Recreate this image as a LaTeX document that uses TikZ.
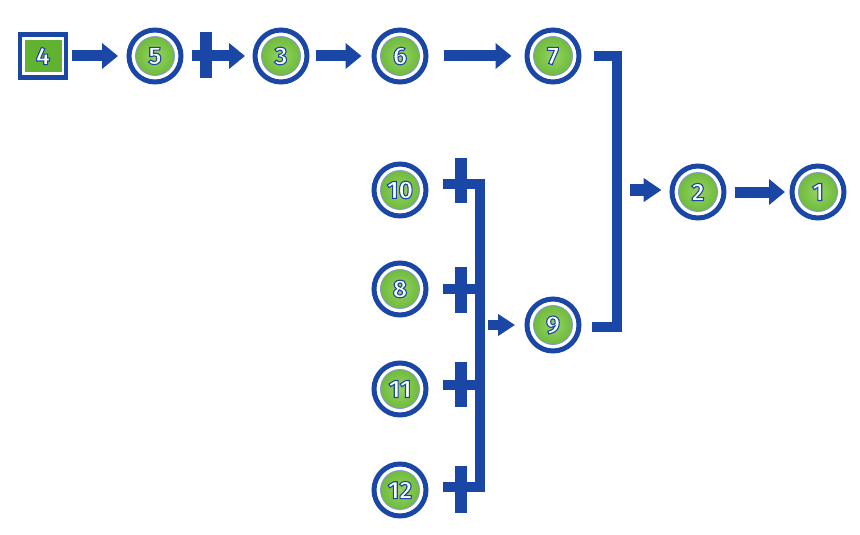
\documentclass[tikz,border=0pt]{standalone}
\usepackage{fontspec}
\setmainfont{Fira Sans}
\usetikzlibrary{arrows.meta}
\definecolor{dblue}{RGB}{26,70,165}
\definecolor{lgreen}{RGB}{150,212,95}
\definecolor{mgreen}{RGB}{98,178,50}
\newcommand{\olnum}[1]{\special{pdf:literal direct 2 Tr 1.1 w 0.102 0.275 0.647 RG}#1\special{pdf:literal direct 0 Tr}}
\tikzset{
  numc/.style={circle, draw=dblue, line width=5pt, fill=white, minimum size=52pt, inner sep=0pt,
    path picture={\shade[inner color=lgreen, outer color=mgreen] (path picture bounding box.center) circle (19.5pt);
      \draw[dblue!55, line width=0.8pt] (path picture bounding box.center) circle (19.5pt);},
    font=\fontsize{25}{25}\selectfont\bfseries, text=white},
  numsq/.style={rectangle, draw=dblue, line width=4.5pt, fill=white, minimum width=46pt, minimum height=43pt, inner sep=0pt,
    path picture={\fill[mgreen] ([shift={(-18.5pt,-16pt)}]path picture bounding box.center) rectangle ([shift={(18.5pt,16pt)}]path picture bounding box.center);},
    font=\fontsize{25}{25}\selectfont\bfseries, text=white},
  bar/.style={draw=dblue, line width=11pt, line cap=butt},
  arr/.style={bar, -{Triangle[length=16pt,width=25pt]}},
  sarr/.style={draw=dblue, line width=12pt, -{Triangle[length=18pt,width=23pt]}},
  sarr9/.style={draw=dblue, line width=10pt, -{Triangle[length=17pt,width=21pt]}},
  brk/.style={draw=dblue, line width=10.5pt, line join=miter, line cap=butt},
  plusv/.style={draw=dblue, line width=12.5pt, line cap=butt},
}
\begin{document}
\begin{tikzpicture}[x=1pt,y=-1pt]
\useasboundingbox (0,0) rectangle (860,535);
% nodes
\node[numsq] (n4) at (43,56) {\olnum{4}};
\node[numc] (n5) at (155,56) {\olnum{5}};
\node[numc] (n3) at (281,56) {\olnum{3}};
\node[numc] (n6) at (400,56) {\olnum{6}};
\node[numc] (n7) at (553,56) {\olnum{7}};
\node[numc] (n2) at (698,192) {\olnum{2}};
\node[numc] (n1) at (818,192) {\olnum{1}};
\node[numc] (n10) at (400,190) {\olnum{10}};
\node[numc] (n8) at (400,289) {\olnum{8}};
\node[numc] (n9) at (553,325) {\olnum{9}};
\node[numc] (n11) at (400,389) {\olnum{11}};
\node[numc] (n12) at (400,490) {\olnum{12}};
% top row connectors
\draw[arr] ([xshift=4pt]n4.east) -- ([xshift=-8.5pt]n5.west);
\draw[arr] ([xshift=8.5pt]n5.east) -- ([xshift=-7.5pt]n3.west);
\draw[plusv] ([xshift=22.5pt,yshift=24pt]n5.east) -- ([xshift=22.5pt,yshift=-22pt]n5.east);
\draw[arr] ([xshift=6pt]n3.east) -- ([xshift=-10pt]n6.west);
\draw[arr] ([xshift=15pt]n6.east) -- ([xshift=-13pt]n7.west);
% right bracket 7/9 -> 2
\coordinate (c7) at (617,56);
\coordinate (c9) at (617,327);
\draw[brk] ([xshift=12pt]n7.east) -- (c7) -- (c9) -- ([xshift=10pt]n9.east |- c9);
\coordinate (a2) at (630,190);
\draw[sarr] (a2) -- ([xshift=-8pt]n2.west |- a2);
\draw[arr] ([xshift=8pt]n2.east) -- ([xshift=-4.5pt]n1.west);
% left bracket 10,8,11,12 -> 9
\coordinate (b10) at (443,184);
\coordinate (bt) at (480,184);
\coordinate (bb) at (480,487);
\coordinate (b12) at (443,487);
\coordinate (b8) at (443,289);
\coordinate (b11) at (443,385);
\draw[brk] (b10) -- (bt) -- (bb) -- (b12);
\draw[brk] (b8) -- (b8 -| bt);
\draw[brk] (b11) -- (b11 -| bt);
\draw[plusv] (461,158) -- (461,203);
\draw[plusv] (461,267) -- (461,313);
\draw[plusv] (461,362) -- (461,407);
\draw[plusv] (461,466) -- (461,513);
\coordinate (a9) at (488,325);
\draw[sarr9] (a9) -- ([xshift=-9.5pt]n9.west);
\end{tikzpicture}
\end{document}
